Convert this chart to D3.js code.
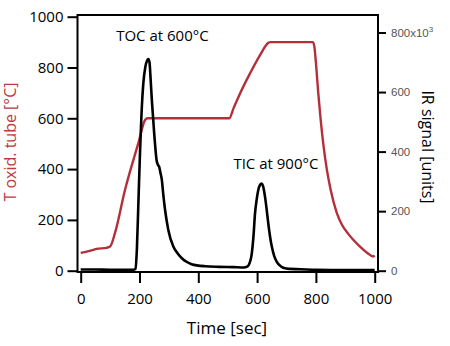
<!DOCTYPE html>
<html><head><meta charset="utf-8">
<script src="https://cdn.jsdelivr.net/npm/d3@7"></script>
<style>body{margin:0;background:#fff}</style>
</head><body>
<svg id="c" width="450" height="346"></svg>
<script>
// ---- data ----
const tempTime  = [0,30,54,88,100,117,150,196,219,228,300,400,505,520,542,576,610,638,645,700,790,795,800,808,815,825,837,850,871,890,910,927,950,975,995,1000];
const tempValue = [70,78,86,90,95,150,315,502,593,600,600,600,600,640,698,777,849,897,900,900,900,880,820,700,610,500,400,320,228,178,145,122,95,70,56,60];
const irTime  = [0,50,100,150,180,186,191,196,202,207,213,220,226,230,234,238,242,250,258,263,267,271,276,281,287,298,315,330,344,360,377,423,470,520,555,565,572,582,588,593,598,604,610,615,620,627,632,638,644,650,658,667,678,689,710,746,800,900,1000];
const irValue = [4,4,3,3,3,6,70,220,405,530,629,685,706,711,700,640,573,461,372,355,349,330,305,255,204,137,81,58,42,30,22,15,13,12,11,13,20,58,120,193,235,271,288,293,285,248,210,159,115,81,50,30,17,10,6,5,3,2,2];
const xTicks = [0,200,400,600,800,1000];
const leftTicks = [0,200,400,600,800,1000];
const rightTicks = [0,200,400,600,800];
const annotations = [{text:"TOC at 600°C", t:278, v:906},{text:"TIC at 900°C", t:664, v:400}];

const svg = d3.select("#c");
const x = d3.scaleLinear().domain([0,1000]).range([80.7,374.7]);
const yL = d3.scaleLinear().domain([0,1000]).range([270.7,16.7]);
const yR = d3.scaleLinear().domain([0,800]).range([270.7,32.5]);
const red = "#b3303b";
const font = "'Open Sans', sans-serif";

// curves
const lineT = d3.line().x((d,i)=>x(tempTime[i])).y(d=>yL(d)).curve(d3.curveMonotoneX);
const lineI = d3.line().x((d,i)=>x(irTime[i])).y(d=>yR(d)).curve(d3.curveMonotoneX);
svg.append("path").attr("d",lineT(tempValue)).attr("fill","none").attr("stroke",red).attr("stroke-width",2.4);
svg.append("path").attr("d",lineI(irValue)).attr("fill","none").attr("stroke","#000").attr("stroke-width",2.6).attr("stroke-linejoin","round");

// frame
svg.append("rect").attr("x",77.5).attr("y",15).attr("width",300.5).attr("height",257)
  .attr("fill","none").attr("stroke","#000").attr("stroke-width",2);

// left axis
const gL = svg.append("g").attr("transform","translate(77.5,0)")
  .call(d3.axisLeft(yL).tickValues(leftTicks).tickSize(10).tickPadding(4).tickFormat(d3.format("d")));
gL.select(".domain").remove();
gL.selectAll(".tick line").attr("stroke","#000").attr("stroke-width",2);
gL.selectAll(".tick text").attr("font-family",font).attr("font-size",15).attr("fill","#000");

// right axis
const gR = svg.append("g").attr("transform","translate(378,0)")
  .call(d3.axisRight(yR).tickValues(rightTicks).tickSize(8).tickPadding(5).tickFormat(()=>""));
gR.select(".domain").remove();
gR.selectAll(".tick line").attr("stroke","#000").attr("stroke-width",2);
gR.selectAll(".tick text").each(function(d){
  const t = d3.select(this).attr("font-family","'Liberation Sans', Arial, sans-serif").attr("font-size",11.5).attr("fill","#555");
  if(d===800){ t.append("tspan").text("800x10"); t.append("tspan").attr("dy",-5).attr("font-size",8).text("3"); }
  else t.text(d);
});

// bottom axis
const gX = svg.append("g").attr("transform","translate(0,272)")
  .call(d3.axisBottom(x).tickValues(xTicks).tickSize(11).tickPadding(10).tickFormat(d3.format("d")));
gX.select(".domain").remove();
gX.selectAll(".tick line").attr("stroke","#000").attr("stroke-width",2);
gX.selectAll(".tick text").attr("font-family",font).attr("font-size",15).attr("fill","#000");

// axis titles
svg.append("text").attr("transform","translate(16,142) rotate(-90)").attr("text-anchor","middle")
  .attr("font-family",font).attr("font-size",16).attr("fill","#c0393f").text("T oxid. tube [°C]");
svg.append("text").attr("transform","translate(422,147) rotate(90)").attr("text-anchor","middle")
  .attr("font-family",font).attr("font-size",16).attr("fill","#000").text("IR signal [units]");
svg.append("text").attr("x",227).attr("y",334).attr("text-anchor","middle")
  .attr("font-family",font).attr("font-size",17).attr("fill","#000").text("Time [sec]");

// annotations
annotations.forEach(a=>{
  svg.append("text").attr("x",x(a.t)).attr("y",yL(a.v)).attr("text-anchor","middle")
    .attr("font-family",font).attr("font-size",15).attr("fill","#000").text(a.text);
});
</script>
</body></html>
